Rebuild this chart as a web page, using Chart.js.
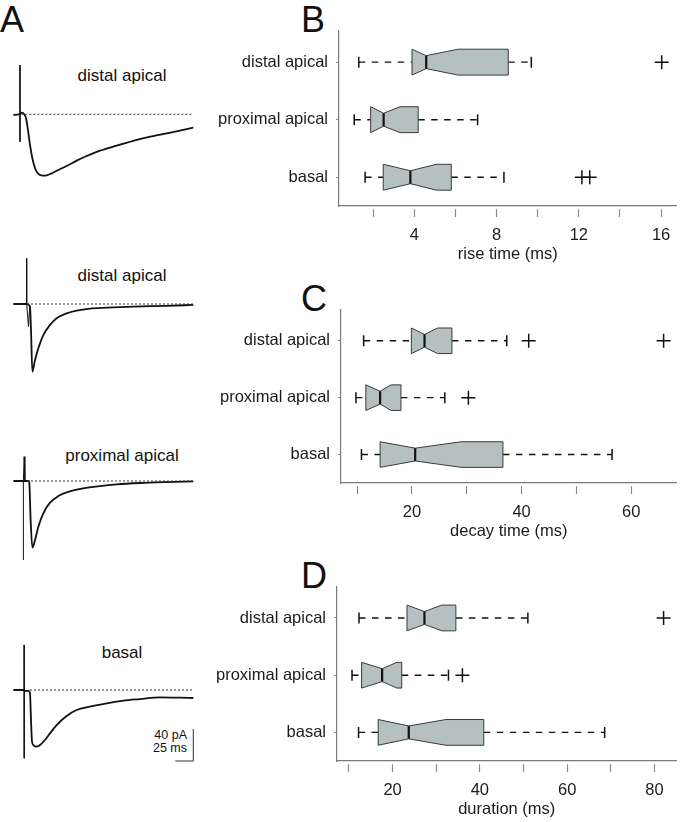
<!DOCTYPE html>
<html>
<head>
<meta charset="utf-8">
<script src="https://cdn.jsdelivr.net/npm/chart.js@4.4.1/dist/chart.umd.min.js"></script>
<style>
  body { margin: 0; background: #fff; }
  #fig { position: relative; width: 685px; height: 822px; overflow: hidden; background: #fff;
         font-family: "Liberation Sans", Arial, sans-serif; color: #111; }
  #fig canvas { position: absolute; }
  .letter { position: absolute; font-size: 36px; line-height: 36px; }
  .tlabel { position: absolute; left: 22px; width: 200px; text-align: center; font-size: 17px; line-height: 20px; }
  .scale { position: absolute; right: 498px; top: 729px; font-size: 12.5px; line-height: 13px; text-align: right; }
</style>
</head>
<body>
<div id="fig">
  <div class="letter" style="left:0;top:2px">A</div>
  <div class="letter" style="left:301px;top:2px">B</div>
  <div class="letter" style="left:301px;top:281px">C</div>
  <div class="letter" style="left:301px;top:558px">D</div>

  <div class="tlabel" style="top:66px">distal apical</div>
  <div class="tlabel" style="top:266px">distal apical</div>
  <div class="tlabel" style="top:446px">proximal apical</div>
  <div class="tlabel" style="top:643px">basal</div>
  <div class="scale">40 pA<br>25 ms</div>

  <canvas id="trace1" width="200" height="130" style="left:0;top:55px"></canvas>
  <canvas id="trace2" width="200" height="140" style="left:0;top:245px"></canvas>
  <canvas id="trace3" width="200" height="130" style="left:0;top:440px"></canvas>
  <canvas id="trace4" width="200" height="140" style="left:0;top:630px"></canvas>

  <canvas id="boxRise" width="485" height="242" style="left:200px;top:22px"></canvas>
  <canvas id="boxDecay" width="485" height="240" style="left:200px;top:301px"></canvas>
  <canvas id="boxDur" width="485" height="241" style="left:200px;top:578px"></canvas>
</div>

<script>
// ---- data: example currents (time in ms, current in pA) ----
const trace1 = [[0.5,-0.8],[8.3,0],[12.5,2.1],[15.3,0.4],[18.1,-5],[20.8,-19.6],[23.6,-38.3],[26.9,-55],
  [30.6,-67.5],[35.2,-74.6],[41.2,-76.7],[46.8,-76.3],[53.7,-73.8],[63,-69.6],[74.5,-64.6],[88.4,-57.9],
  [102.3,-52.1],[120.8,-45.4],[144,-39.2],[167.1,-33.3],[190.3,-27.9],[213.4,-23.8],[231.9,-20.4],[250.4,-16.7]];
const trace2 = [[0.5,0],[18.5,0],[23.6,-3],[25,-32.5],[26.9,-84.6],[30.6,-70],[35.2,-55.4],[42.1,-38.8],
  [51.4,-26.3],[60.6,-17.9],[74.5,-11.7],[88.4,-8.3],[106.9,-5.8],[130.1,-4.6],[167.1,-3.3],[213.4,-2.3],[250.4,-1.2]];
const trace3 = [[0.5,0],[13.4,0],[16.7,0],[21.8,0],[22.7,-2.9],[24.5,-48.8],[26.9,-83.3],[30.6,-73.8],
  [35.2,-57.1],[42.1,-40.4],[51.4,-27.1],[63,-18.8],[74.5,-14.2],[97.7,-9.2],[120.8,-6.3],[144,-4.2],
  [176.4,-2.5],[213.4,-1.3],[250.4,-0.4]];
const trace4 = [[0.5,0],[14.8,0],[16.5,-1],[21.3,-1],[23.6,-4.2],[25,-37.5],[26.4,-64.6],[28.2,-68.8],
  [32.9,-70.8],[37.5,-68.8],[44.4,-62.5],[51.4,-54.2],[60.6,-43.8],[74.5,-32.5],[88.4,-25],[106.9,-20.8],
  [130.1,-16.7],[153.2,-13.3],[176.4,-11.3],[204.2,-9.2],[231.9,-9.6],[250.4,-10]];
// stimulus artifacts
const artifact1 = [[9.7,61.7],[9.7,-34.2]];
const artifact2 = [[19,57.1],[19,0],[21.5,-28.3],[23.2,-3]];
const artifact3 = [[14.4,-98.8],[14.4,0],[15.5,30.4],[16.5,0]];
const artifact4 = [[15.3,56.3],[15.6,-85.4]];
// where the dotted baseline starts (ms)
const baseStart = [0.5, 19.4, 19.4, 23.6];
const baseEnd = 250.4;
const scaleBarMs = 25;
const scaleBarPa = 40;

// ---- data: box plots, order basal, proximal apical, distal apical ----
const rowNames = ['basal', 'proximal apical', 'distal apical'];

const riseLow = [1.61, 1.08, 1.30];
const riseQ1 = [2.49, 1.88, 3.89];
const riseMed = [3.81, 2.51, 4.58];
const riseQ3 = [5.80, 4.19, 8.57];
const riseHigh = [8.36, 7.08, 9.69];
const riseNotchLo = [2.49, 1.88, 3.89];
const riseNotchHi = [5.08, 3.31, 6.13];
const riseOut = [[12.15, 12.53], [], [16.03]];
const riseTicks = [2, 4, 6, 8, 10, 12, 14, 16];
const riseLabels = [4, 8, 12, 16];

const decayLow = [10.8, 9.8, 11.2];
const decayQ1 = [14.2, 11.6, 19.9];
const decayMed = [20.6, 14.2, 22.3];
const decayQ3 = [36.6, 18.0, 27.3];
const decayHigh = [56.5, 26.0, 37.3];
const decayNotchLo = [14.2, 11.6, 19.9];
const decayNotchHi = [29.0, 16.2, 24.7];
const decayOut = [[], [30.3], [41.3, 65.9]];
const decayTicks = [10, 20, 30, 40, 50, 60];
const decayLabels = [20, 40, 60];

const durLow = [12.2, 10.7, 12.3];
const durQ1 = [16.7, 12.9, 23.3];
const durMed = [23.7, 17.6, 27.3];
const durQ3 = [40.9, 22.1, 34.5];
const durHigh = [68.6, 32.8, 51.0];
const durNotchLo = [16.7, 12.9, 23.3];
const durNotchHi = [32.2, 21.0, 31.3];
const durOut = [[], [36.0], [82.1]];
const durTicks = [10, 20, 30, 40, 50, 60, 70, 80];
const durLabels = [20, 40, 60, 80];

Chart.defaults.font.family = '"Liberation Sans", Arial, sans-serif';
Chart.defaults.font.size = 16.5;
Chart.defaults.color = '#1a1a1a';

// ---- traces ----
const pxPerMs = 0.72, pxPerPa = 0.8, originX = 13;
function pts(arr) { return arr.map(p => ({x: p[0], y: p[1]})); }

function traceChart(id, trace, artifact, bStart, top, base, withBar) {
    const canvas = document.getElementById(id);
    const yMax = (base - top) / pxPerPa;
    const yMin = yMax - canvas.height / pxPerPa;
    const datasets = [
        { data: [{x: bStart, y: 0}, {x: baseEnd, y: 0}], borderColor: '#333', borderWidth: 1, borderDash: [2, 2] },
        { data: pts(artifact), borderColor: '#111', borderWidth: 1 },
        { data: pts(trace), borderColor: '#111', borderWidth: 1.8, cubicInterpolationMode: 'monotone' }
    ];
    if (withBar) {
        const low = yMin + 9 / pxPerPa;
        datasets.push({
            data: [{x: baseEnd - scaleBarMs, y: low}, {x: baseEnd, y: low}, {x: baseEnd, y: low + scaleBarPa}],
            borderColor: '#333', borderWidth: 1
        });
    }
    datasets.forEach(d => { d.showLine = true; d.pointRadius = 0; d.clip = false; });
    return new Chart(canvas, {
        type: 'scatter',
        data: { datasets },
        options: {
            responsive: false, animation: false, devicePixelRatio: 1,
            layout: { padding: 0 },
            plugins: { legend: { display: false }, tooltip: { enabled: false } },
            scales: {
                x: { display: false, min: -originX / pxPerMs, max: (canvas.width - originX) / pxPerMs },
                y: { display: false, min: yMin, max: yMax }
            }
        }
    });
}

traceChart('trace1', trace1, artifact1, baseStart[0], 55, 114.3, false);
traceChart('trace2', trace2, artifact2, baseStart[1], 245, 304, false);
traceChart('trace3', trace3, artifact3, baseStart[2], 440, 481, false);
traceChart('trace4', trace4, artifact4, baseStart[3], 630, 690, true);

// ---- notched boxes ----
const notchPlugin = {
    id: 'notchBoxes',
    afterDatasetsDraw(chart, args, opts) {
        const {ctx, scales: {x, y}} = chart;
        const b = opts.boxes;
        ctx.save();
        for (let i = 0; i < b.q1.length; i++) {
            const row = i + 1;
            const yt = y.getPixelForValue(row + opts.half), yb = y.getPixelForValue(row - opts.half);
            const nt = y.getPixelForValue(row + opts.half / 2), nb = y.getPixelForValue(row - opts.half / 2);
            const x1 = x.getPixelForValue(b.q1[i]), x3 = x.getPixelForValue(b.q3[i]);
            const xm = x.getPixelForValue(b.med[i]);
            const xl = x.getPixelForValue(b.nlo[i]), xh = x.getPixelForValue(b.nhi[i]);
            ctx.beginPath();
            ctx.moveTo(x1, yt); ctx.lineTo(xl, yt); ctx.lineTo(xm, nt); ctx.lineTo(xh, yt); ctx.lineTo(x3, yt);
            ctx.lineTo(x3, yb); ctx.lineTo(xh, yb); ctx.lineTo(xm, nb); ctx.lineTo(xl, yb); ctx.lineTo(x1, yb);
            ctx.closePath();
            ctx.fillStyle = '#b5c1c0';
            ctx.fill();
            ctx.strokeStyle = '#3a3a3a';
            ctx.lineWidth = 1;
            ctx.stroke();
            ctx.beginPath();
            ctx.moveTo(xm, nt); ctx.lineTo(xm, nb);
            ctx.strokeStyle = '#111';
            ctx.lineWidth = 2.2;
            ctx.stroke();
        }
        ctx.restore();
    }
};

// the labels are not at the ends of the axes, so drop the edge padding Chart.js reserves for them
function noEdgePadding(sc) {
    sc.paddingTop = 0; sc.paddingBottom = 0; sc.paddingLeft = 0; sc.paddingRight = 0;
}

function boxChart(id, s) {
    const datasets = [];
    for (let i = 0; i < s.low.length; i++) {
        const row = i + 1;
        datasets.push({ data: [{x: s.low[i], y: row}, {x: s.q1[i], y: row}], capAt: 0 });
        datasets.push({ data: [{x: s.q3[i], y: row}, {x: s.high[i], y: row}], capAt: 1 });
    }
    datasets.forEach(d => {
        d.showLine = true;
        d.borderColor = '#111';
        d.borderWidth = 1.4;
        d.borderDash = [6.5, 6.5];
        d.pointStyle = 'line';
        d.rotation = 90;
        d.pointBorderColor = '#111';
        d.pointBorderWidth = 1.5;
        const cap = d.capAt;
        d.pointRadius = c => c.dataIndex === cap ? 5.5 : 0;
    });
    const outliers = [];
    s.out.forEach((list, i) => list.forEach(v => outliers.push({x: v, y: i + 1})));
    datasets.push({ data: outliers, pointStyle: 'cross', pointRadius: 7, borderColor: '#111', borderWidth: 1.5 });

    return new Chart(document.getElementById(id), {
        type: 'scatter',
        data: { datasets },
        plugins: [notchPlugin],
        options: {
            responsive: false, animation: false, devicePixelRatio: 1,
            layout: { padding: { top: 5, right: s.padRight, left: 0, bottom: 0 } },
            plugins: {
                legend: { display: false }, tooltip: { enabled: false },
                notchBoxes: { half: 0.225, boxes: { q1: s.q1, med: s.med, q3: s.q3, nlo: s.nlo, nhi: s.nhi } }
            },
            scales: {
                x: {
                    min: s.min, max: s.max,
                    afterBuildTicks: sc => { sc.ticks = s.ticks.map(v => ({value: v})); },
                    afterFit: sc => { sc.height = 58; noEdgePadding(sc); },
                    ticks: { autoSkip: false, maxRotation: 0, padding: 9,
                             callback: v => s.labels.includes(v) ? String(v) : '' },
                    grid: { drawOnChartArea: false, tickLength: 11, tickColor: '#8a8a8a', tickWidth: 1.2,
                            tickBorderDash: [8, 3], tickBorderDashOffset: 8 },
                    border: { display: true, color: '#7a7a7a', width: 1.2 },
                    title: { display: true, text: s.title, padding: 0, font: { size: 16.5 } }
                },
                y: {
                    min: 0.5, max: 3.55,
                    afterBuildTicks: sc => { sc.ticks = [1, 2, 3].map(v => ({value: v})); },
                    afterFit: sc => { sc.width = s.axisLeft; noEdgePadding(sc); },
                    ticks: { padding: 6, callback: v => rowNames[v - 1] },
                    grid: { drawOnChartArea: false, tickLength: 5, tickColor: '#8a8a8a', tickWidth: 1.2,
                            tickBorderDash: [3, 2], tickBorderDashOffset: 3 },
                    border: { display: true, color: '#7a7a7a', width: 1.2 }
                }
            }
        }
    });
}

boxChart('boxRise', { low: riseLow, q1: riseQ1, med: riseMed, q3: riseQ3, high: riseHigh,
    nlo: riseNotchLo, nhi: riseNotchHi, out: riseOut, ticks: riseTicks, labels: riseLabels,
    title: 'rise time (ms)', min: 0.34, max: 16.75, axisLeft: 139, padRight: 5 });
boxChart('boxDecay', { low: decayLow, q1: decayQ1, med: decayMed, q3: decayQ3, high: decayHigh,
    nlo: decayNotchLo, nhi: decayNotchHi, out: decayOut, ticks: decayTicks, labels: decayLabels,
    title: 'decay time (ms)', min: 7.07, max: 68.25, axisLeft: 141, padRight: 3 });
boxChart('boxDur', { low: durLow, q1: durQ1, med: durMed, q3: durQ3, high: durHigh,
    nlo: durNotchLo, nhi: durNotchHi, out: durOut, ticks: durTicks, labels: durLabels,
    title: 'duration (ms)', min: 7.26, max: 85.06, axisLeft: 137, padRight: 5 });
</script>
</body>
</html>
